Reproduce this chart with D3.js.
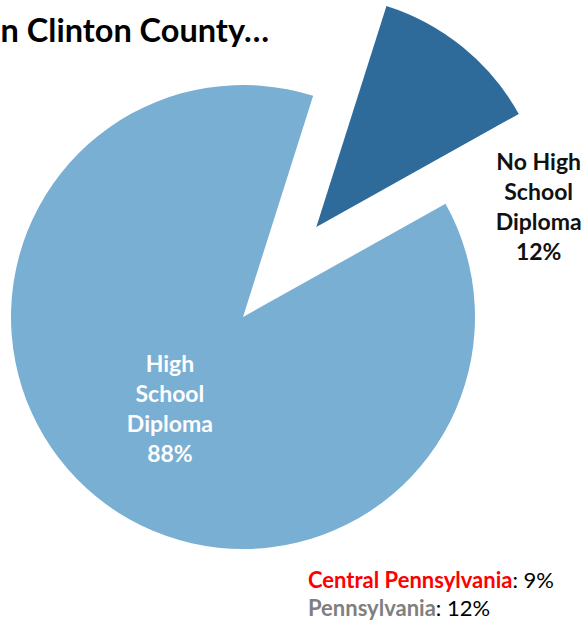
<!DOCTYPE html>
<html><head><meta charset="utf-8">
<script src="https://cdn.jsdelivr.net/npm/d3@7"></script>
<style>html,body{margin:0;padding:0;background:#fff;overflow:hidden}</style>
</head><body>
<svg id="c" width="587" height="622"></svg>
<script>
const categories = ["No High School Diploma", "High School Diploma"];
const values = [12, 88];
const labelLines = [["No High", "School", "Diploma", "12%"], ["High", "School", "Diploma", "88%"]];
const titleText = "n Clinton County\u2026";
const compareNames = ["Central Pennsylvania", "Pennsylvania"];
const compareValues = ["9%", "12%"];

const W = 587, H = 622;
const cx = 243, cy = 317, R = 232;
const explode = 116;
const colors = ["#2e6b9a", "#7aafd4"];
const font = "Lato, 'Open Sans', sans-serif";

const svg = d3.select("#c");
const deg = Math.PI / 180;
const pie = d3.pie().sort(null).value(d => d).startAngle(17.6 * deg).endAngle(17.6 * deg + 2 * Math.PI);
const arcs = pie(values);
const arc = d3.arc().innerRadius(0).outerRadius(R);

const g = svg.append("g").attr("transform", `translate(${cx},${cy})`);
g.selectAll("path").data(arcs).join("path")
  .attr("d", arc)
  .attr("fill", (d, i) => colors[i])
  .attr("transform", (d, i) => {
    if (i !== 0) return null;
    const m = (d.startAngle + d.endAngle) / 2;
    return `translate(${explode * Math.sin(m)},${-explode * Math.cos(m)})`;
  });

// inner label (big slice)
const inner = d3.arc().innerRadius(122).outerRadius(122);
const c1 = inner.centroid(arcs[1]);
const t1 = g.append("text").attr("text-anchor", "middle")
  .attr("font-family", font).attr("font-weight", "bold").attr("font-size", 23)
  .attr("fill", "#fdfdfd");
labelLines[1].forEach((s, k) => t1.append("tspan").attr("x", c1[0] + 4).attr("y", c1[1] - 45 + 5 + k * 30).text(s));

// outside label (small slice)
const outer = d3.arc().innerRadius(314).outerRadius(314);
const a0 = arcs[0];
const lblAngle = { startAngle: a0.endAngle + 9 * deg, endAngle: a0.endAngle + 9 * deg };
const c0 = outer.centroid(lblAngle);
const t0 = g.append("text").attr("text-anchor", "middle")
  .attr("font-family", font).attr("font-weight", "bold").attr("font-size", 23)
  .attr("fill", "#111");
labelLines[0].forEach((s, k) => t0.append("tspan").attr("x", c0[0] + 1).attr("y", c0[1] - 45 + 6 + k * 30).text(s));

// title
svg.append("text").attr("x", 269).attr("y", 42).attr("text-anchor", "end")
  .attr("font-family", font).attr("font-weight", "bold").attr("font-size", 32.5)
  .attr("fill", "#000").text(titleText);

// comparisons
const cmpColors = ["#ff0000", "#7f7f7f"];
compareNames.forEach((n, i) => {
  const t = svg.append("text").attr("x", 308).attr("y", 588 + i * 28)
    .attr("font-family", font).attr("font-size", 22).attr("fill", "#000");
  t.append("tspan").attr("font-weight", "bold").attr("fill", cmpColors[i]).text(n);
  t.append("tspan").text(": " + compareValues[i]);
});
</script>
</body></html>
